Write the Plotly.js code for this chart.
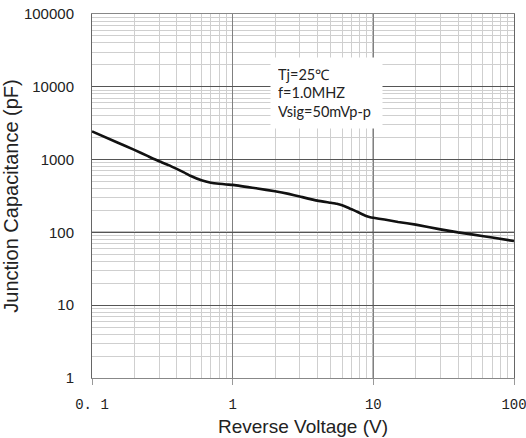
<!DOCTYPE html>
<html>
<head>
<meta charset="utf-8">
<script src="https://cdn.plot.ly/plotly-3.0.1.min.js"></script>
<style>html,body{margin:0;padding:0;background:#fff;}#chart{width:526px;height:438px;}</style>
</head>
<body>
<div id="chart"></div>
<script>
const voltage = [0.1, 0.15, 0.2, 0.25, 0.3, 0.35, 0.4, 0.45, 0.5, 0.6, 0.7, 0.8, 0.9, 1, 1.5, 2, 2.5, 3, 4, 5, 5.5, 6, 6.5, 7, 7.5, 8, 8.5, 9, 9.5, 10, 12, 15, 20, 30, 40, 50, 70, 100];
const capacitance = [2440, 1734, 1358, 1114, 948, 841, 746, 668, 600, 520, 482, 465, 455, 450, 400, 368, 338, 311, 273, 255, 247, 236, 222, 208, 196, 185, 175, 167, 162, 159, 150, 139, 128, 110, 100, 94, 85, 76];
const xTickVals = [0.1, 1, 10, 100];
const xTickText = ['0. 1', '1', '10', '100'];
const yTickVals = [1, 10, 100, 1000, 10000, 100000];
const yTickText = ['1', '10', '100', '1000', '10000', '100000'];
const noteLines = ['Tj=25℃', 'f=1.0MHZ', 'Vsig=50mVp-p'];

const trace = {
  x: voltage, y: capacitance, type: 'scatter', mode: 'lines',
  line: {color: '#111', width: 2.6, shape: 'spline', smoothing: 0.4},
  hoverinfo: 'skip'
};

const layout = {
  width: 526, height: 438,
  margin: {l: 92, r: 12, t: 14, b: 60},
  paper_bgcolor: '#fff', plot_bgcolor: '#fff',
  showlegend: false,
  xaxis: {
    type: 'log', range: [-1, 2],
    tickmode: 'array', tickvals: xTickVals, ticktext: xTickText,
    tickfont: {family: 'Liberation Mono, DejaVu Sans Mono, monospace', size: 14, color: '#222'},
    ticks: 'outside', ticklen: 6, tickcolor: '#999', tickwidth: 1,
    ticklabelstandoff: 7, ticklabeloverflow: 'allow',
    showgrid: true, gridcolor: '#808080', gridwidth: 1,
    minor: {dtick: 'D1', showgrid: true, gridcolor: '#cfcfcf', gridwidth: 1, ticks: ''},
    showline: true, linecolor: '#888', linewidth: 1, mirror: true,
    zeroline: false,
    title: {text: 'Reverse Voltage (V)', font: {family: 'Liberation Sans, Arial, sans-serif', size: 19, color: '#222'}, standoff: 7}
  },
  yaxis: {
    type: 'log', range: [0, 5],
    tickmode: 'array', tickvals: yTickVals, ticktext: yTickText,
    tickfont: {family: 'Liberation Sans, Arial, sans-serif', size: 15, color: '#222'},
    ticks: '', ticklabelstandoff: 14,
    showgrid: true, gridcolor: '#555', gridwidth: 1,
    minor: {dtick: 'D1', showgrid: true, gridcolor: '#cfcfcf', gridwidth: 1, ticks: ''},
    showline: true, linecolor: '#666', linewidth: 1, mirror: true,
    zeroline: false,
    title: {text: 'Junction Capacitance (pF)', font: {family: 'Liberation Sans, Arial, sans-serif', size: 20, color: '#222'}, standoff: 12}
  },
  shapes: [
    {type: 'line', xref: 'x', yref: 'paper', x0: 10, x1: 10, y0: 0, y1: 1, line: {color: '#000', width: 1.2}, layer: 'below'},
    {type: 'line', xref: 'paper', yref: 'y', x0: 0, x1: 1, y0: 100, y1: 100, line: {color: '#000', width: 1.2}, layer: 'below'}
  ],
  annotations: [{
    xref: 'paper', yref: 'paper',
    x: (270 - 92) / 422, y: 1 - (57 - 14) / 364,
    xanchor: 'left', yanchor: 'top',
    width: 97, height: 56, align: 'left', valign: 'middle',
    text: noteLines.join('<br>'), showarrow: false,
    bgcolor: '#fff', borderpad: 7,
    font: {family: 'Lato, Open Sans, sans-serif', size: 14.5, color: '#222'}
  }]
};

Plotly.newPlot('chart', [trace], layout, {displayModeBar: false, staticPlot: true});
</script>
</body>
</html>
